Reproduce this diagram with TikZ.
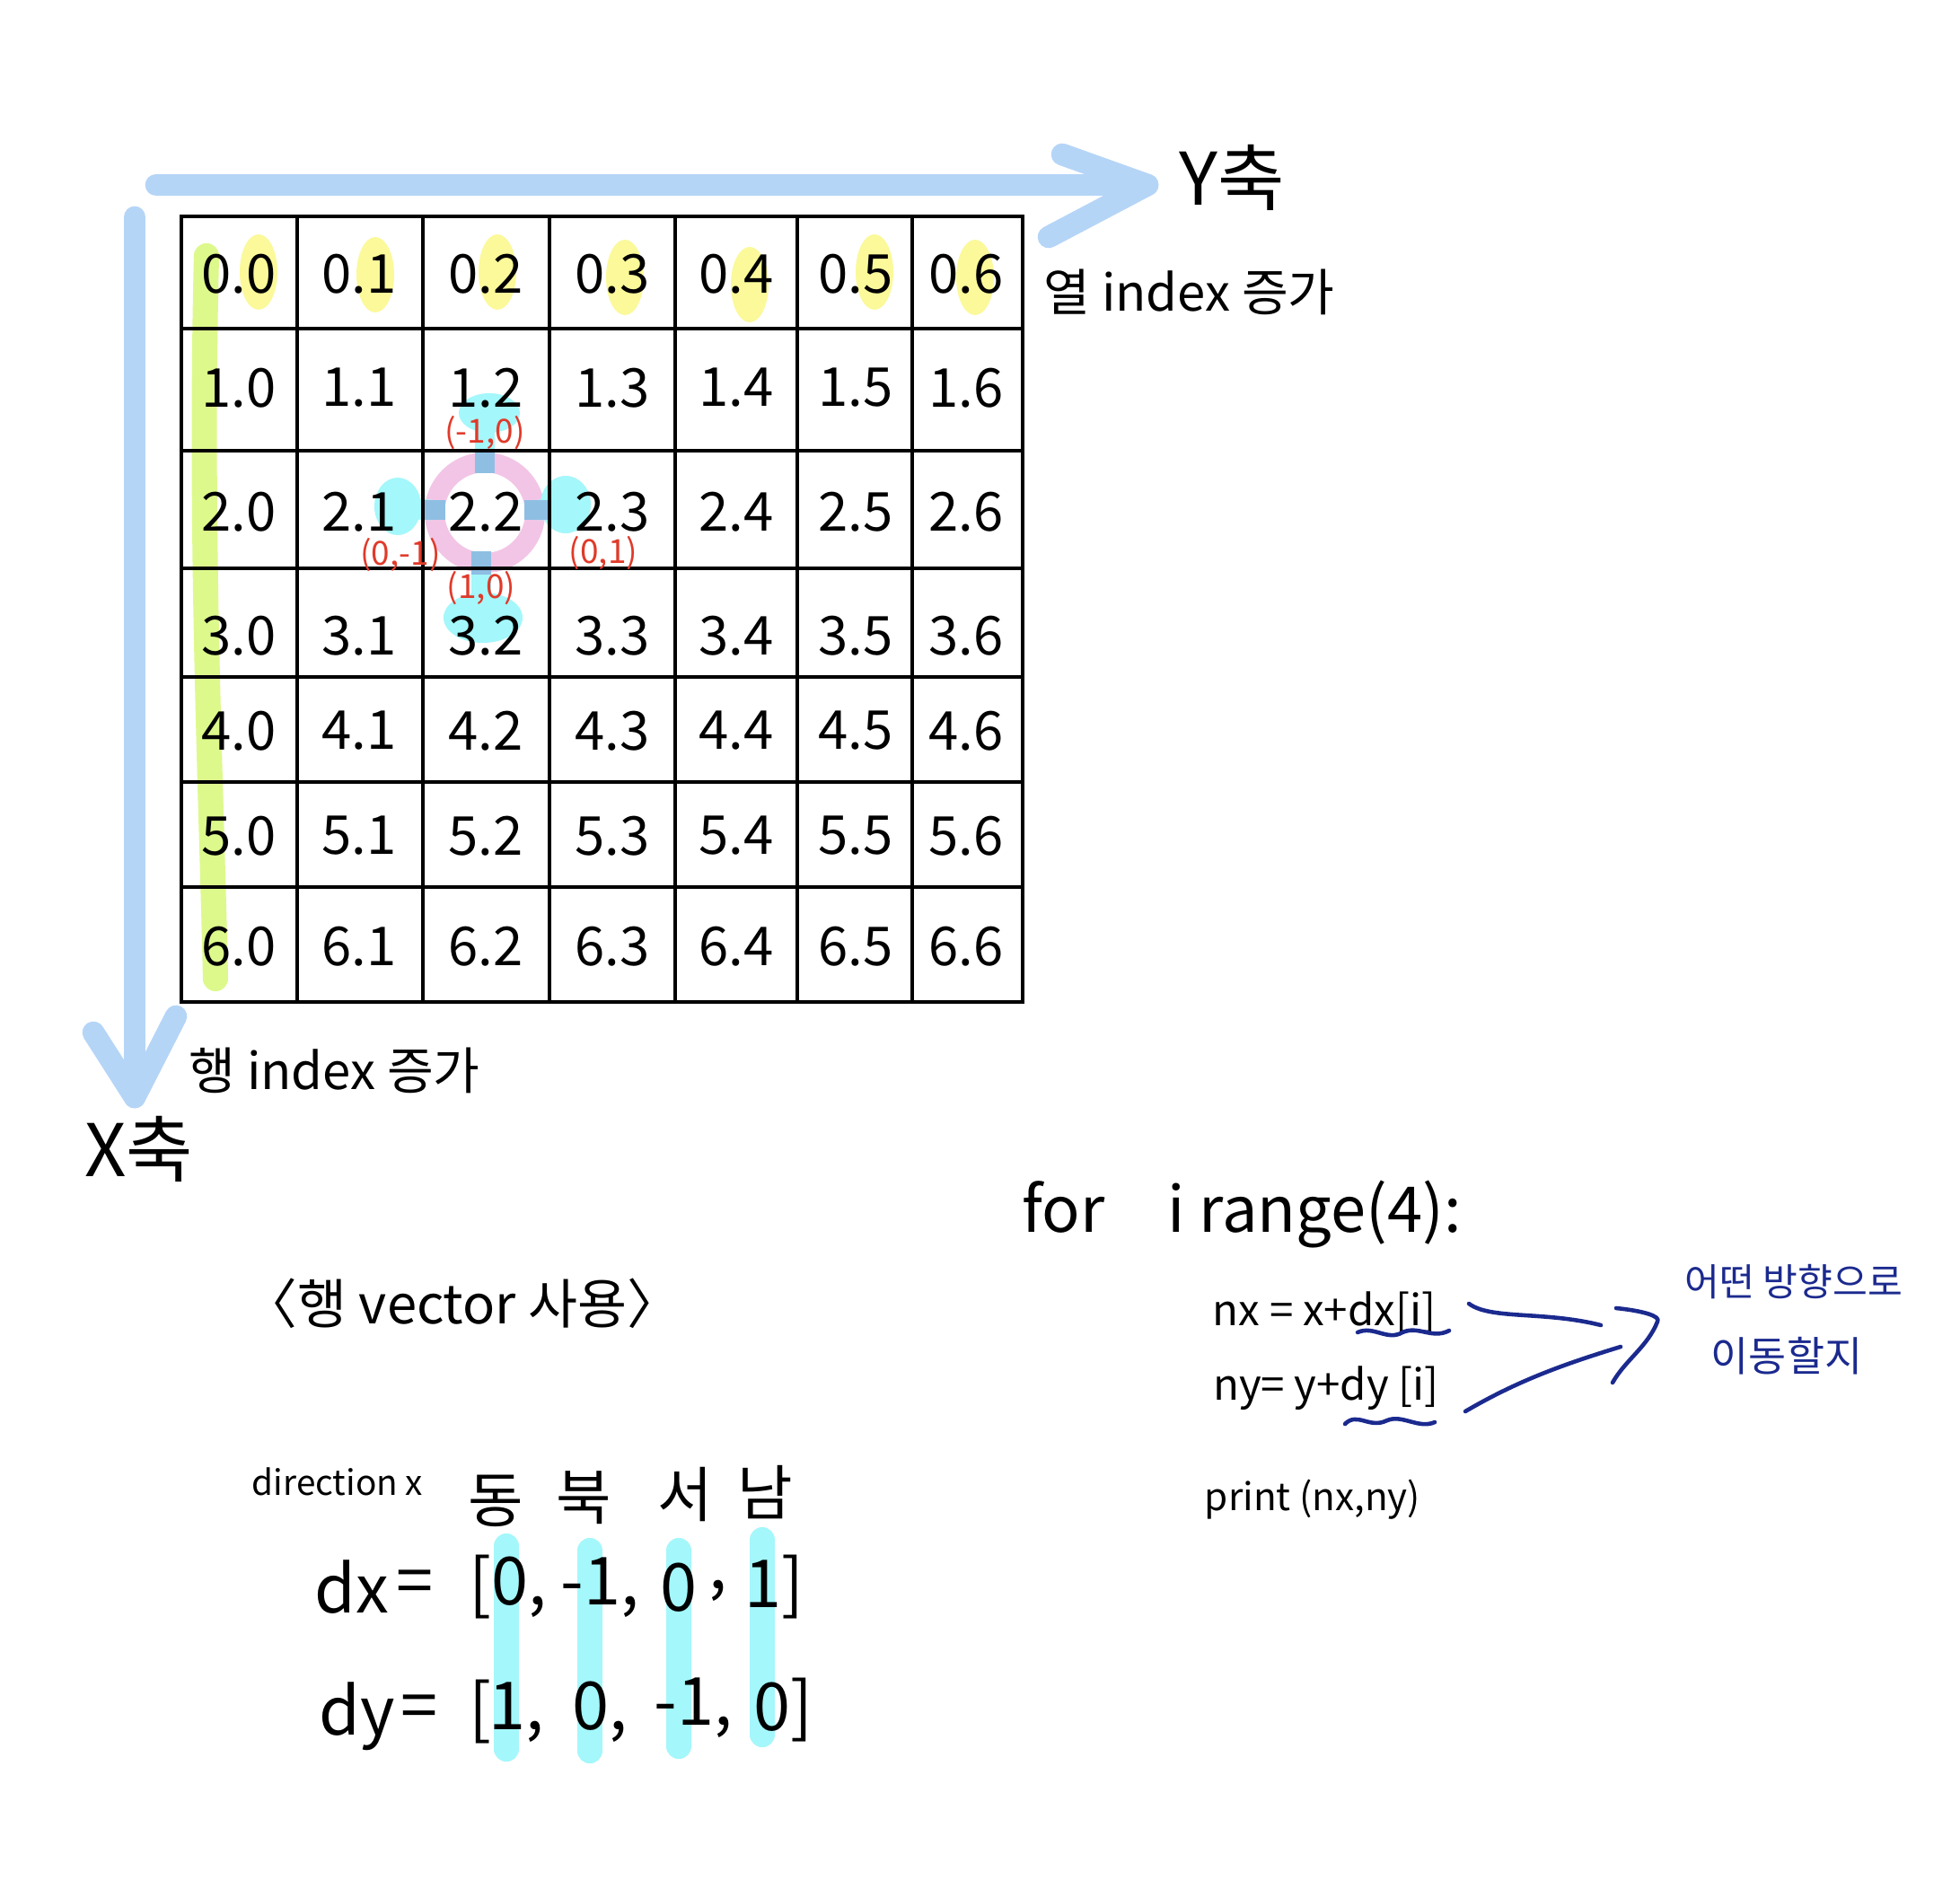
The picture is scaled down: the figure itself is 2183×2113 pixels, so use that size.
\documentclass[tikz,border=0pt]{standalone}
\usepackage{fontspec}
\setmainfont{Noto Sans CJK KR}
\definecolor{axisblue}{HTML}{B5D5F7}
\definecolor{hlyellow}{HTML}{FBF99A}
\definecolor{hlgreen}{HTML}{DDF98C}
\definecolor{hlpink}{HTML}{F2C5E6}
\definecolor{hlcyan}{HTML}{A4F7FA}
\definecolor{hlmix}{HTML}{8EBFE3}
\definecolor{notered}{HTML}{E03A2A}
\definecolor{navy}{HTML}{1B2A8E}
\newcommand{\fs}[1]{\fontsize{#1}{#1}\selectfont}
\begin{document}
\begin{tikzpicture}[x=0.01cm,y=-0.01cm,
  axis/.style={draw=axisblue, line width=7pt, line cap=round, line join=round},
  gridln/.style={line width=1.2pt},
  cell/.style={inner sep=0pt, font=\fs{17}},
  yel/.style={fill=hlyellow, draw=none},
  cyanln/.style={draw=hlcyan, line width=6.5pt, line cap=round},
  mixln/.style={draw=hlmix, line width=6.5pt},
  redlbl/.style={text=notered, inner sep=0pt, font=\fs{10.5}},
  big/.style={inner sep=0pt, font=\fs{23}},
  mid/.style={inner sep=0pt, font=\fs{16}},
  code/.style={inner sep=0pt, font=\fs{13.5}},
  vec/.style={inner sep=0pt, font=\fs{21}},
  hdr/.style={inner sep=0pt, font=\fs{19}},
  navyln/.style={draw=navy, line width=1.3pt, line cap=round, line join=round},
  note/.style={inner sep=0pt, text=navy, font=\fs{12}}]
\useasboundingbox (0,0) rectangle (2183,2113);
\fill[white] (0,0) rectangle (2183,2113);

% ---- highlights (behind everything) ----
\draw[draw=hlgreen, line width=8pt, line cap=round]
  (230,285) .. controls (222,600) and (236,900) .. (240,1090);
\foreach \x/\y in {288/303, 418/306, 554/303, 696/309, 835/317, 974/303, 1086/309}
  \fill[yel] (\x,\y) ellipse (21 and 42);

% pink ring and cyan direction marks around 2.2
\coordinate (ctr) at (540,571);
\draw[hlpink, line width=6.3pt] (ctr) circle (56);
% up
\draw[cyanln] (540,500) -- (540,462);
\fill[hlcyan] (545,460) ellipse (34 and 22);
\draw[mixln] (540,527) -- (540,503);
% down
\draw[cyanln] (536,640) -- (536,680);
\fill[hlcyan] (538,688) ellipse (44 and 28);
\draw[mixln] (536,614) -- (536,640);
% left
\draw[cyanln] (480,568) -- (445,566);
\fill[hlcyan] (443,564) ellipse (26 and 32);
\draw[mixln] (496,568) -- (472,568);
% right
\draw[cyanln] (600,568) -- (628,566);
\fill[hlcyan] (630,562) ellipse (28 and 32);
\draw[mixln] (584,568) -- (610,568);

% dx/dy column highlights
\foreach \x/\a/\b in {564/1722/1948, 657/1727/1950, 756/1727/1945, 849/1715/1932}
  \draw[draw=hlcyan, line width=8pt, line cap=round] (\x,\a) -- (\x,\b);

% ---- axes ----
\coordinate (yax0) at (174,206);
\coordinate (yaxtip) at (1278,206);
\coordinate (yaxb1) at (1183,172);
\coordinate (yaxb2) at (1168,264);
\draw[axis] (yax0) -- (yaxtip);
\draw[axis] (yaxb1) -- (yaxtip) -- (yaxb2);
\coordinate (xax0) at (150,242);
\coordinate (xaxtip) at (150,1222);
\coordinate (xaxb1) at (104,1150);
\coordinate (xaxb2) at (196,1132);
\draw[axis] (xax0) -- (xaxtip);
\draw[axis] (xaxb1) -- (xaxtip) -- (xaxb2);

\node[big] (ylbl) at (1372,198) {Y축};
\node[mid, anchor=west] (ycap) at (1162,325) {열 index 증가};
\node[mid, anchor=west] (xcap) at (210,1192) {행 index 증가};
\node[big] (xlbl) at (155,1280) {X축};

% ---- grid ----
\draw[gridln] (202,241) rectangle (1139,1116);
\foreach \x in {331,471,612,752,888,1016}
  \draw[gridln] (\x,241) -- (\x,1116);
\foreach \y in {366,502,633,754,871,988}
  \draw[gridln] (202,\y) -- (1139,\y);

% ---- cell labels ----
\foreach \r/\yy in {0/305,1/432,2/570,3/708,4/814,5/931,6/1054}{
  \foreach \c/\xx in {0/266,1/400,2/541,3/682,4/820,5/953,6/1076}{
    \node[cell] (c\r\c) at (\xx,\yy) {\r.\c};
  }
}

% red offset labels
\node[redlbl] (lup) at (540,482) {(-1,0)};
\node[redlbl] (lleft) at (446,618) {(0,-1)};
\node[redlbl] (lright) at (672,616) {(0,1)};
\node[redlbl] (ldown) at (536,655) {(1,0)};

% ---- bottom left ----
\node[inner sep=0pt, font=\fs{17}] (title) at (515,1452) {〈행 vector 사용〉};
\node[inner sep=0pt, font=\fs{11}] (dir) at (376,1650) {direction x};
\node[hdr] (dong) at (552,1672) {동};
\node[hdr] (buk) at (650,1668) {북};
\node[hdr] (seo) at (763,1664) {서};
\node[hdr] (nam) at (852,1662) {남};

\node[vec] (dxn) at (392,1768) {dx};
\node[vec] (dxeq) at (462,1768) {=};
\node[vec] (dxl) at (535,1768) {[};
\node[vec] (dx0) at (578,1768) {0,};
\node[vec] (dx1) at (668,1768) {-1,};
\node[vec] (dx2) at (756,1768) {0};
\node[vec] (dxc) at (800,1772) {,};
\node[vec] (dx3) at (862,1768) {1]};

\node[vec] (dyn) at (398,1912) {dy};
\node[vec] (dyeq) at (467,1907) {=};
\node[vec] (dyl) at (535,1907) {[};
\node[vec] (dy0) at (575,1907) {1,};
\node[vec] (dy1) at (668,1907) {0,};
\node[vec] (dy2) at (772,1902) {-1,};
\node[vec] (dy3) at (872,1905) {0]};

% ---- right code ----
\node[inner sep=0pt, font=\fs{20}] (forln) at (1383,1353) {for\quad i range(4):};
\node[code] (nxln) at (1475,1462) {nx = x+dx[i]};
\node[code] (nyln) at (1477,1546) {ny= y+dy [i]};
\node[inner sep=0pt, font=\fs{12}] (prln) at (1462,1670) {print (nx,ny)};

\draw[navyln] (1512,1484) .. controls (1530,1476) and (1545,1494) .. (1562,1484)
  .. controls (1580,1476) and (1595,1492) .. (1614,1482);
\draw[navyln] (1498,1586) .. controls (1512,1572) and (1525,1592) .. (1545,1582)
  .. controls (1562,1575) and (1580,1592) .. (1598,1584);

\coordinate (a1s) at (1636,1452);
\coordinate (a1e) at (1783,1476);
\coordinate (a2s) at (1632,1572);
\coordinate (a2e) at (1805,1500);
\coordinate (ch1) at (1800,1457);
\coordinate (ch2) at (1846,1472);
\coordinate (ch3) at (1796,1540);
\draw[navyln] (a1s) .. controls (1660,1470) and (1720,1460) .. (a1e);
\draw[navyln] (a2s) .. controls (1690,1538) and (1740,1520) .. (a2e);
\draw[navyln] (ch1) .. controls (1830,1460) and (1850,1466) .. (ch2)
  .. controls (1835,1500) and (1810,1515) .. (ch3);

\node[note] (n1) at (1998,1428) {어떤 방향으로};
\node[note, font=\fs{13}] (n2) at (1990,1510) {이동할지};
\end{tikzpicture}
\end{document}
